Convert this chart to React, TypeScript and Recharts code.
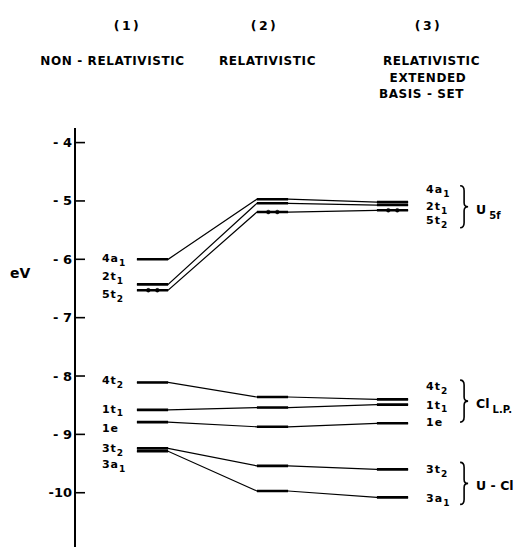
import React from 'react';
import { ComposedChart, Line, XAxis, YAxis, ReferenceDot } from 'recharts';

// ---------- data ----------
const columnNumbers = ['(1)', '(2)', '(3)'];
const columnTitles = [['NON - RELATIVISTIC'], ['RELATIVISTIC'], ['RELATIVISTIC', 'EXTENDED', 'BASIS - SET']];
const orbitalNames = ['4a', '2t', '5t', '4t', '1t', '1e', '3t', '3a'];
const orbitalSubs = ['1', '1', '2', '2', '1', '', '2', '1'];
const nonRelativistic = [-6.0, -6.43, -6.53, -8.11, -8.58, -8.79, -9.24, -9.29];
const relativistic = [-4.97, -5.04, -5.19, -8.36, -8.54, -8.87, -9.54, -9.97];
const extendedBasis = [-5.02, -5.07, -5.16, -8.4, -8.49, -8.81, -9.6, -10.08];
const eVTicks = [-4, -5, -6, -7, -8, -9, -10];
const groupNames = ['U', 'Cl', 'U - Cl'];
const groupSubs = ['5f', 'L.P.', ''];
const groupMembers = [[0, 1, 2], [3, 4, 5], [6, 7]];
const occupiedOrbital = 2; // 5t2 carries the electron dots

// ---------- layout ----------
const W = 532;
const H = 547;
const HALF = 0.13;
const X_DOMAIN: [number, number] = [0.354, 4.1625];
const Y_DOMAIN: [number, number] = [-10.93, -3.75];
const FONT = '"DejaVu Sans", "Liberation Sans", sans-serif';
const leftLabelDy = [3, -4, 8, 2, 3, 10, 4, 17];
const rightLabelDy = [-9, 5, 14, -9, 4, 3, 4, 5];
const braceDy = [1, -8, 0];
const numberDx = [-25, -8, 36];
const titleDx = [[-40], [-5], [39, 35.5, 29]];
const titleDy = [-63, -46, -30];

const energySets = [nonRelativistic, relativistic, extendedBasis];

const connectorData = orbitalNames.map((_, i) =>
  energySets.flatMap((set, c) => [
    { x: c + 1 - HALF, y: set[i] },
    { x: c + 1 + HALF, y: set[i] },
  ])
);

const levelData = energySets.flatMap((set, c) =>
  set.map((v) => [
    { x: c + 1 - HALF, y: v },
    { x: c + 1 + HALF, y: v },
  ])
);

const OrbLabel = ({ x, y, name, sub, anchor }: any) => (
  <text x={x} y={y} textAnchor={anchor} fontFamily={FONT} fontWeight="bold" fontSize={11} letterSpacing={1} fill="#000">
    {name}
    {sub ? (
      <tspan dy={3.5} fontSize={9}>
        {sub}
      </tspan>
    ) : null}
  </text>
);

const YTick = (props: any) => {
  const { x, y, payload } = props;
  const v = payload.value;
  const label = Math.abs(v) < 10 ? `- ${Math.abs(v)}` : `-${Math.abs(v)}`;
  return (
    <g>
      <text x={x + 1} y={y} dy={4.5} textAnchor="end" fontFamily={FONT} fontWeight="bold" fontSize={13} fill="#000">
        {label}
      </text>
      <line x1={x + 4} x2={x + 14} y1={y} y2={y} stroke="#000" strokeWidth={1.6} />
    </g>
  );
};

const HeadTick = (props: any) => {
  const { x, y, payload } = props;
  const c = Math.round(payload.value) - 1;
  if (c < 0 || c > 2) return null;
  return (
    <g fontFamily={FONT} fontWeight="bold" fill="#000">
      <text x={x + numberDx[c]} y={y - 98} textAnchor="middle" fontSize={12.5} letterSpacing={2.5}>
        {columnNumbers[c]}
      </text>
      {columnTitles[c].map((t, k) => (
        <text key={k} x={x + titleDx[c][k]} y={y + titleDy[k]} textAnchor="middle" fontSize={12} letterSpacing={0.6}>
          {t}
        </text>
      ))}
    </g>
  );
};

const Brace = ({ x, cy }: any) => {
  const t = cy - 21;
  const b = cy + 21;
  const d = `M ${x} ${t} Q ${x + 4} ${t} ${x + 4} ${t + 5} L ${x + 4} ${cy - 4} Q ${x + 4} ${cy} ${x + 8} ${cy} Q ${x + 4} ${cy} ${x + 4} ${cy + 4} L ${x + 4} ${b - 5} Q ${x + 4} ${b} ${x} ${b}`;
  return <path d={d} fill="none" stroke="#000" strokeWidth={1.6} />;
};

export default function App() {
  return (
    <div style={{ position: 'absolute', left: 0, top: 0, width: W, height: H, background: '#fff' }}>
      <ComposedChart width={W} height={H} margin={{ top: 0, right: 0, bottom: 0, left: 0 }}>
        <XAxis
          type="number"
          dataKey="x"
          orientation="top"
          height={128}
          domain={X_DOMAIN}
          allowDataOverflow
          ticks={[1, 2, 3]}
          interval={0}
          axisLine={false}
          tickLine={false}
          tickSize={0}
          tickMargin={0}
          tick={<HeadTick />}
        />
        <YAxis
          type="number"
          dataKey="y"
          width={75}
          domain={Y_DOMAIN}
          allowDataOverflow
          ticks={eVTicks}
          interval={0}
          axisLine={{ stroke: '#000', strokeWidth: 2 }}
          tickLine={false}
          tickSize={0}
          tickMargin={4}
          tick={<YTick />}
          label={{
            content: (p: any) => {
              const vb = p.viewBox || { x: 0, y: 128 };
              return (
                <text x={vb.x + 10} y={vb.y + 150} fontFamily={FONT} fontWeight="bold" fontSize={14} fill="#000">
                  eV
                </text>
              );
            },
          }}
        />
        {connectorData.map((d, i) => (
          <Line
            key={`c${i}`}
            data={d}
            dataKey="y"
            type="linear"
            stroke="#000"
            strokeWidth={1.2}
            dot={false}
            activeDot={false}
            isAnimationActive={false}
          />
        ))}
        {levelData.map((d, i) => (
          <Line
            key={`l${i}`}
            data={d}
            dataKey="y"
            type="linear"
            stroke="#000"
            strokeWidth={2.6}
            dot={false}
            activeDot={false}
            isAnimationActive={false}
          />
        ))}
        {energySets.map((set, c) =>
          [-0.035, 0.04].map((off, k) => (
            <ReferenceDot
              key={`e${c}${k}`}
              x={c + 1 + off}
              y={set[occupiedOrbital]}
              r={1.9}
              fill="#000"
              stroke="#000"
              strokeWidth={0.5}
              ifOverflow="visible"
            />
          ))
        )}
        {nonRelativistic.map((v, i) => (
          <ReferenceDot
            key={`ll${i}`}
            x={1 - HALF}
            y={v}
            ifOverflow="visible"
            shape={(p: any) => (
              <OrbLabel x={p.cx - 35} y={p.cy + leftLabelDy[i]} name={orbitalNames[i]} sub={orbitalSubs[i]} anchor="start" />
            )}
          />
        ))}
        {extendedBasis.map((v, i) => (
          <ReferenceDot
            key={`rl${i}`}
            x={3 + HALF}
            y={v}
            ifOverflow="visible"
            shape={(p: any) => (
              <OrbLabel x={p.cx + 18} y={p.cy + rightLabelDy[i]} name={orbitalNames[i]} sub={orbitalSubs[i]} anchor="start" />
            )}
          />
        ))}
        {groupMembers.map((m, g) => {
          const mean = m.reduce((s, i) => s + extendedBasis[i], 0) / m.length;
          return (
            <ReferenceDot
              key={`g${g}`}
              x={3 + HALF}
              y={mean}
              ifOverflow="visible"
              shape={(p: any) => {
                const mid = p.cy + braceDy[g];
                return (
                  <g>
                    <Brace x={p.cx + 52} cy={mid} />
                    <text x={p.cx + 68} y={mid + 7} fontFamily={FONT} fontWeight="bold" fontSize={12.5} fill="#000">
                      {groupNames[g]}
                      {groupSubs[g] ? (
                        <tspan dx={3} dy={5} fontSize={10}>
                          {groupSubs[g]}
                        </tspan>
                      ) : null}
                    </text>
                  </g>
                );
              }}
            />
          );
        })}
      </ComposedChart>
    </div>
  );
}
